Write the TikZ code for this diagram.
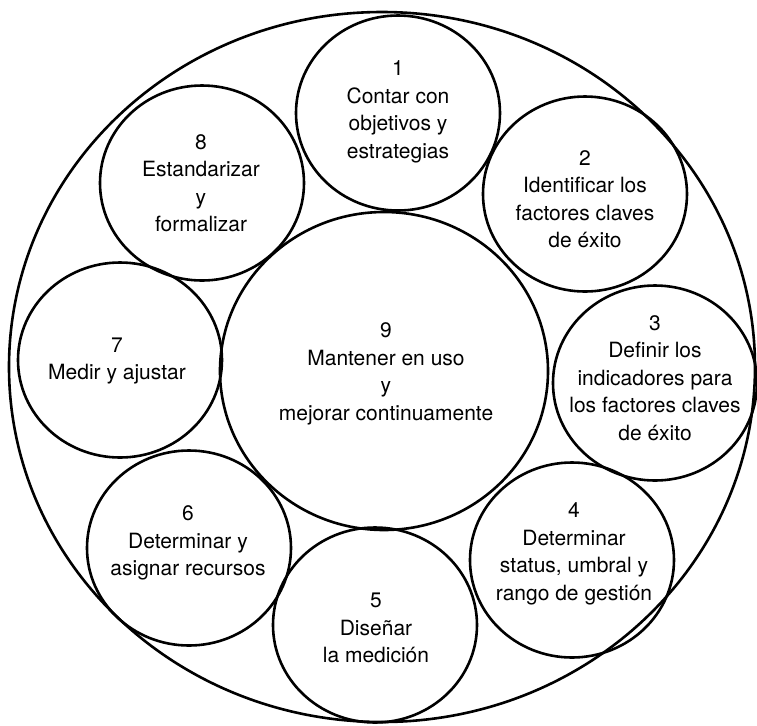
\documentclass[tikz,border=0pt]{standalone}
\usepackage{fontspec}
\setmainfont{TeX Gyre Heros}
\usetikzlibrary{shapes.geometric}
\begin{document}
\begin{tikzpicture}[x=0.5pt,y=-0.5pt,
  ring/.style={draw=black, ellipse, line width=1.3pt, inner sep=0pt},
  smallring/.style={ring, minimum width=102pt, minimum height=97.5pt},
  bigring/.style={ring, minimum width=164pt, minimum height=159pt},
  outerring/.style={ring, minimum width=373pt, minimum height=355pt},
  lbl/.style={align=center, inner sep=0pt, font=\fontsize{10.5}{13.75}\selectfont}]
\useasboundingbox (0,0) rectangle (757,725);
\fill[white] (0,0) rectangle (757,725);
\node[outerring] (outer) at (382,367) {};
\node[smallring] (c1) at (398,113) {};
\node[smallring] (c2) at (585,194) {};
\node[smallring] (c3) at (655,383) {};
\node[smallring] (c4) at (572,560) {};
\node[smallring] (c5) at (375,625) {};
\node[smallring] (c6) at (189,548) {};
\node[smallring] (c7) at (120,360) {};
\node[smallring] (c8) at (202,183) {};
\node[bigring] (c9) at (384,371) {};
\node[lbl] (t1) at (398,112) {1\\Contar con\\objetivos y\\estrategias};
\node[lbl] (t2) at (585,199) {2\\Identificar los\\factores claves\\de éxito};
\node[lbl] (t3) at (655,378) {3\\Definir los\\indicadores para\\los factores claves\\de éxito};
\node[lbl] (t4) at (574,554) {4\\Determinar\\status, umbral y\\rango de gestión};
\node[lbl] (t5) at (376,628) {5\\Diseñar\\la medición};
\node[lbl] (t6) at (188,543) {6\\Determinar y\\asignar recursos};
\node[lbl] (t7) at (117,361) {7\\Medir y ajustar};
\node[lbl] (t8) at (201,183) {8\\Estandarizar\\y\\formalizar};
\node[lbl] (t9) at (386,374) {9\\Mantener en uso\\y\\mejorar continuamente};
\end{tikzpicture}
\end{document}
